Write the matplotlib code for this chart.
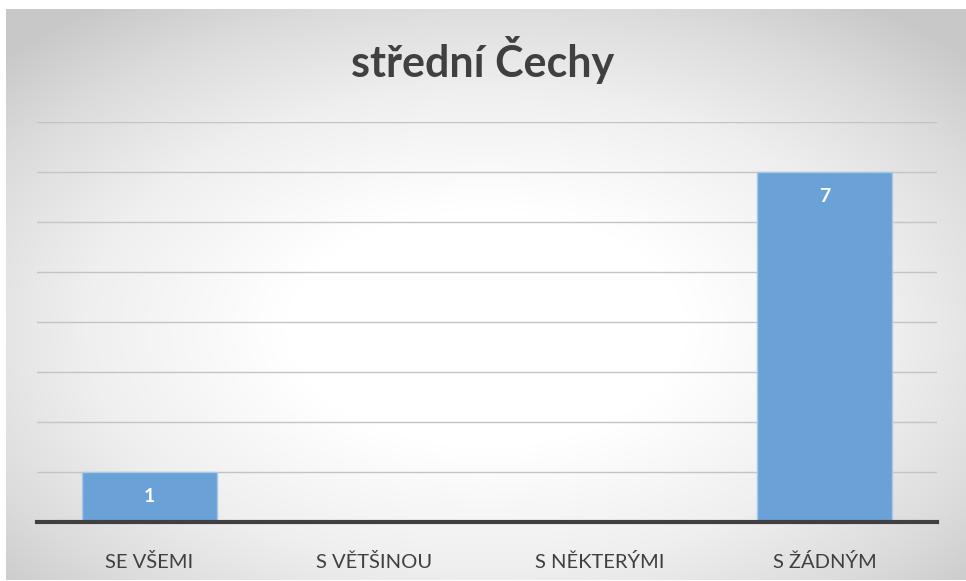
import numpy as np
import matplotlib
matplotlib.use("Agg")
import matplotlib.pyplot as plt
from matplotlib.colors import LinearSegmentedColormap

categories = ["SE VŠEMI", "S VĚTŠINOU", "S NĚKTERÝMI", "S ŽÁDNÝM"]
values = [1, 0, 0, 7]
title = "střední Čechy"

plt.rcParams['font.family'] = ['Lato', 'DejaVu Sans']

W, H = 966, 581
fig = plt.figure(figsize=(W/100, H/100), dpi=100)
fig.patch.set_facecolor("white")

# chart area background with radial gradient
x0, y0, x1, y1 = 6, 9, 966, 580
bg = fig.add_axes([x0/W, 1 - y1/H, (x1-x0)/W, (y1-y0)/H])
ny, nx = 300, 500
xx, yy = np.meshgrid(np.linspace(-1, 1, nx), np.linspace(-1, 1, ny))
cy = 0.12
r = np.sqrt((xx/1.0)**2 + ((yy - cy)/1.0)**2)
r = np.clip(r / 1.4, 0, 1)
cmap = LinearSegmentedColormap.from_list(
    "g", [(0, "#ffffff"), (0.3, "#ffffff"), (0.6, "#efefef"), (0.82, "#dcdcdc"), (1.0, "#c8c8c8")], N=256)
bg.imshow(r, cmap=cmap, vmin=0, vmax=1, aspect="auto", extent=[0, 1, 0, 1], origin="upper", interpolation="bilinear")
bg.axis("off")

# plot axes
px0, px1 = 37, 937
py_base, py_top = 522, 122
ax = fig.add_axes([px0/W, 1 - py_base/H, (px1-px0)/W, (py_base-py_top)/H])
ax.set_facecolor("none")
x = np.arange(len(categories))
bars = ax.bar(x, values, width=0.6, color="#6aa2d8", edgecolor="#a9c8e8", linewidth=1.0, zorder=3)
ax.set_xlim(-0.5, len(categories) - 0.5)
ax.set_ylim(0, 8)
ax.set_yticks(np.arange(1, 9))
ax.yaxis.grid(True, color="#c4c4c4", linewidth=1.0, zorder=0)
ax.tick_params(axis="y", length=0, labelleft=False)
ax.set_xticks(x)
ax.set_xticklabels(categories, fontsize=14.5, color="#404040")
ax.tick_params(axis="x", length=0, pad=22)
for s in ["top", "right", "left"]:
    ax.spines[s].set_visible(False)
ax.spines["bottom"].set_color("#404040")
ax.spines["bottom"].set_linewidth(3)
ax.spines["bottom"].set_zorder(4)

for b, v in zip(bars, values):
    if v > 0:
        ax.text(b.get_x() + b.get_width()/2, v - 0.5, str(v), ha="center", va="center",
                color="white", fontsize=14, fontweight="bold", zorder=5)

fig.text(0.5, 1 - 60/H, title, ha="center", va="center", fontsize=31, fontweight="bold", color="#404040")

fig.savefig("out.png", dpi=100)
